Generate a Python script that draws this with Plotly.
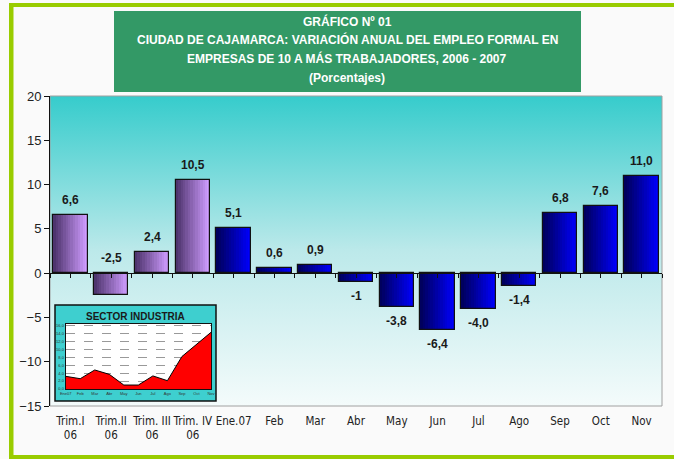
import base64
import numpy as np
import plotly.graph_objects as go

# ---------------- data ----------------
categories = ["Trim.I<br>06", "Trim.II<br>06", "Trim. III<br>06", "Trim. IV<br>06", "Ene.07",
              "Feb", "Mar", "Abr", "May", "Jun", "Jul", "Ago", "Sep", "Oct", "Nov"]
values = [6.6, -2.5, 2.4, 10.5, 5.1, 0.6, 0.9, -1.0, -3.8, -6.4, -4.0, -1.4, 6.8, 7.6, 11.0]
value_labels = ["6,6", "-2,5", "2,4", "10,5", "5,1", "0,6", "0,9", "-1", "-3,8", "-6,4",
                "-4,0", "-1,4", "6,8", "7,6", "11,0"]
series_group = ["trim"] * 4 + ["month"] * 11
y_ticks = [-15, -10, -5, 0, 5, 10, 15, 20]

inset_months = ["Ene07", "Feb", "Mar", "Abr", "May", "Jun", "Jul", "Ago", "Sep", "Oct", "Nov"]
inset_values = [3.2, 2.6, 4.8, 3.7, 1.0, 1.0, 3.3, 2.1, 8.2, 11.2, 14.3]
inset_ticks = [0, 2, 4, 6, 8, 10, 12, 14, 16]
inset_ticktext = ["0,0", "2,0", "4,0", "6,0", "8,0", "10,0", "12,0", "14,0", "16,0"]

title_lines = ["GRÁFICO Nº 01",
               "CIUDAD DE CAJAMARCA: VARIACIÓN ANUAL DEL EMPLEO FORMAL EN",
               "EMPRESAS DE 10 A MÁS TRABAJADORES, 2006 - 2007",
               "(Porcentajes)"]

# label placement (style): the quarterly negative label sits above the zero line
label_above_zero = [False, True] + [False] * 13

# ---------------- layout helpers ----------------
W_PX, H_PX = 674, 459
ML, MR, MT, MB = 50, 12, 96, 53
PW = W_PX - ML - MR
PH = H_PX - MT - MB


def px(x):
    return (x - ML) / PW


def py(y):
    return (H_PX - MB - y) / PH


FONT = "Liberation Sans, Arial, sans-serif"
NARROW = "Liberation Sans Narrow, Arial Narrow, DejaVu Sans Condensed, Liberation Sans, sans-serif"

fig = go.Figure()

# ---------------- bars with horizontal gradient ----------------
def mix(c1, c2, t):
    return "rgb(%d,%d,%d)" % tuple(round(a + (b - a) * t) for a, b in zip(c1, c2))


trim_dark, trim_light = (0x4E, 0x34, 0x6E), (0xCF, 0x9C, 0xFF)
mon_dark, mon_light = (0x00, 0x00, 0x5E), (0x00, 0x00, 0xFA)
N = 14
BW = 0.84
xs = list(range(len(values)))
for i in range(N):
    t = i / (N - 1)
    cols = [mix(trim_dark, trim_light, t) if g == "trim" else mix(mon_dark, mon_light, t)
            for g in series_group]
    fig.add_trace(go.Bar(x=xs, y=values, width=BW * (1 - i / N), offset=-BW / 2 + BW * i / N,
                         marker=dict(color=cols, line=dict(width=0)),
                         showlegend=False, hoverinfo="skip"))
fig.add_trace(go.Bar(x=xs, y=values, width=BW, offset=-BW / 2,
                     marker=dict(color="rgba(0,0,0,0)", line=dict(color="#111", width=1.2)),
                     showlegend=False, hovertemplate="%{y}<extra></extra>"))

# invisible helper trace so the zero-line tick axis is created
fig.add_trace(go.Scatter(x=[xs[0]], y=[0], xaxis="x3", yaxis="y", mode="markers",
                         marker=dict(opacity=0), showlegend=False, hoverinfo="skip"))

# ---------------- inset area chart ----------------
fig.add_trace(go.Scatter(x=list(range(len(inset_values))), y=inset_values, xaxis="x2", yaxis="y2",
                         mode="lines", fill="tozeroy", fillcolor="#FF0000",
                         line=dict(color="#000", width=1), showlegend=False, hoverinfo="skip"))

# ---------------- value labels ----------------
annotations = []
for x, v, lab, above0 in zip(xs, values, value_labels, label_above_zero):
    if above0:
        yy, anc, shift = 0, "bottom", 6
    elif v >= 0:
        yy, anc, shift = v, "bottom", 6
    else:
        yy, anc, shift = v, "top", -5
    annotations.append(dict(x=x, y=yy, xref="x", yref="y", text="<b>%s</b>" % lab, showarrow=False,
                            yanchor=anc, yshift=shift,
                            font=dict(family=FONT, size=12, color="#1a1a1a")))

# title lines
for ypix, line in zip([21, 40, 59, 78], title_lines):
    annotations.append(dict(x=px(347), y=py(ypix), xref="paper", yref="paper", text="<b>%s</b>" % line,
                            showarrow=False, xanchor="center", yanchor="middle",
                            font=dict(family=FONT, size=12, color="white")))
# inset title
annotations.append(dict(x=px(135.5), y=py(316), xref="paper", yref="paper",
                        text="<b>SECTOR INDUSTRIA</b>", showarrow=False, xanchor="center",
                        yanchor="middle", font=dict(family=FONT, size=10, color="#1a1a1a")))

# ---------------- background gradient (svg) ----------------
svg = ('<svg xmlns="http://www.w3.org/2000/svg" width="10" height="100" preserveAspectRatio="none">'
       '<defs><linearGradient id="g" x1="0" y1="0" x2="0" y2="1">'
       '<stop offset="0" stop-color="#36CCCC"/><stop offset="0.5" stop-color="#BCE9EA"/>'
       '<stop offset="1" stop-color="#F4FBFB"/></linearGradient></defs>'
       '<rect width="10" height="100" fill="url(#g)"/></svg>')
bg_src = "data:image/svg+xml;base64," + base64.b64encode(svg.encode()).decode()

shapes = [
    # plot area border
    dict(type="rect", xref="paper", yref="paper", x0=0, x1=1, y0=0, y1=1,
         line=dict(color="#A0A0A0", width=1), layer="below"),
    # green frame (top, left, bottom)
    dict(type="rect", xref="paper", yref="paper", x0=px(9), x1=px(674), y0=py(7), y1=py(3),
         fillcolor="#99CC00", line=dict(width=0), layer="below"),
    dict(type="rect", xref="paper", yref="paper", x0=px(9), x1=px(13.5), y0=py(459), y1=py(3),
         fillcolor="#99CC00", line=dict(width=0), layer="below"),
    dict(type="rect", xref="paper", yref="paper", x0=px(9), x1=px(674), y0=py(459), y1=py(455),
         fillcolor="#99CC00", line=dict(width=0), layer="below"),
    # title box
    dict(type="rect", xref="paper", yref="paper", x0=px(114), x1=px(581), y0=py(92), y1=py(11),
         fillcolor="#339966", line=dict(width=0), layer="below"),
    # inset frame
    dict(type="rect", xref="paper", yref="paper", x0=px(55), x1=px(216), y0=py(401), y1=py(305),
         fillcolor="#3ECFCF", line=dict(color="#111", width=1.5), layer="below"),
    # inset plot background
    dict(type="rect", xref="paper", yref="paper", x0=px(65.7), x1=px(211), y0=py(389), y1=py(324),
         fillcolor="white", line=dict(width=0), layer="below"),
]

ymin, ymax = -15, 20
zero_pos = (0 - ymin) / (ymax - ymin)

fig.update_layout(
    width=W_PX, height=H_PX,
    margin=dict(l=ML, r=MR, t=MT, b=MB, autoexpand=False),
    paper_bgcolor="#FAFAFA", plot_bgcolor="rgba(0,0,0,0)",
    barmode="overlay", bargap=0,
    showlegend=False,
    images=[dict(source=bg_src, xref="paper", yref="paper", x=0, y=1, sizex=1, sizey=1,
                 xanchor="left", yanchor="top", sizing="stretch", layer="below")],
    shapes=shapes,
    annotations=annotations,
    xaxis=dict(range=[-0.5, len(values) - 0.5], tickvals=xs, ticktext=categories, ticks="",
               tickangle=0, automargin=False,
               showline=False, showgrid=False, zeroline=False, ticklabelstandoff=6,
               tickfont=dict(family=NARROW, size=11.5, color="#222")),
    xaxis3=dict(overlaying="x", anchor="free", position=zero_pos, range=[-0.5, len(values) - 0.5],
                tickvals=list(np.arange(-0.5, len(values), 0.5)), ticks="outside", ticklen=4,
                tickcolor="#111", showline=True, linecolor="#111", linewidth=1, automargin=False,
                showticklabels=False, showgrid=False, zeroline=False),
    yaxis=dict(range=[ymin, ymax], tickvals=y_ticks, ticks="outside", ticklen=5, tickcolor="#111",
               showline=True, linecolor="#111", linewidth=1, showgrid=False, zeroline=False,
               automargin=False, tickfont=dict(family=FONT, size=13, color="#222")),
    xaxis2=dict(domain=[px(65.7), px(211)], anchor="y2", range=[0, len(inset_values) - 1],
                tickvals=list(range(len(inset_values))), ticktext=inset_months, ticks="",
                tickangle=0, automargin=False,
                showline=True, mirror=True, linecolor="#111", linewidth=1, showgrid=False,
                zeroline=False, tickfont=dict(family=FONT, size=4, color="#333")),
    yaxis2=dict(domain=[py(389), py(324)], anchor="x2", range=[0, 16.4], tickvals=inset_ticks,
                ticktext=inset_ticktext, ticks="", showline=True, mirror=True, linecolor="#111",
                linewidth=1, showgrid=True, gridcolor="#999", griddash="dash", gridwidth=1,
                automargin=False,
                zeroline=False, tickfont=dict(family=FONT, size=4, color="#333")),
)

fig.write_html("out.html", config={"displayModeBar": False},
               post_script="document.body.style.margin='0';document.body.style.overflow='hidden';"
                           "document.body.style.background='#FAFAFA';")
